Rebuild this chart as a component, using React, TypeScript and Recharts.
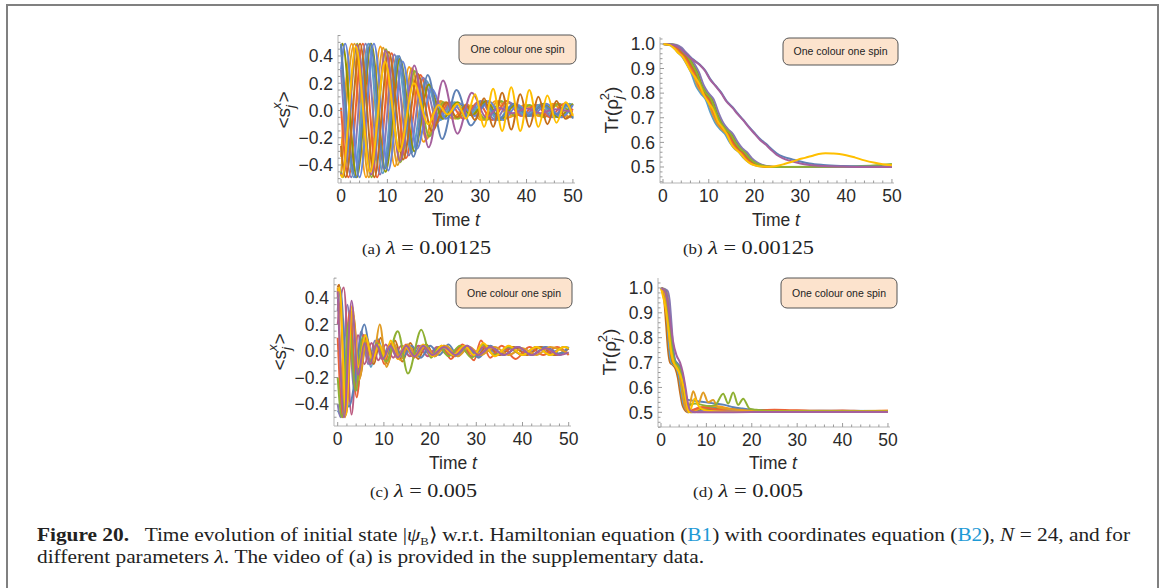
import React from "react"
import { LineChart, Line, XAxis, YAxis } from "recharts"

type Pt = [number, number]
type Series = { color: string; pts: Pt[] }

// Mathematica default palette
const blue = "#5E81B5"
const orange = "#E19C24"
const green = "#8FB032"
const red = "#EB6235"
const violet = "#8778B3"
const brown = "#C56E1A"
const sky = "#5D9EC7"
const yellow = "#FFBF00"
const purple = "#A5609D"
const olive = "#929600"
const indigo = "#6685D9"
const amber = "#F89F13"
const rose = "#BC5B80"

// ---------- shared ticks ----------
const timeTicks = [0, 2, 4, 6, 8, 10, 12, 14, 16, 18, 20, 22, 24, 26, 28, 30, 32, 34, 36, 38, 40, 42, 44, 46, 48, 50]
const timeMajor = [0, 10, 20, 30, 40, 50]
const sxTicks = [-0.5, -0.45, -0.4, -0.35, -0.3, -0.25, -0.2, -0.15, -0.1, -0.05, 0, 0.05, 0.1, 0.15, 0.2, 0.25, 0.3, 0.35, 0.4, 0.45, 0.5, 0.55]
const sxMajor = [-0.4, -0.2, 0, 0.2, 0.4]
const trTicks = [0.44, 0.46, 0.48, 0.5, 0.52, 0.54, 0.56, 0.58, 0.6, 0.62, 0.64, 0.66, 0.68, 0.7, 0.72, 0.74, 0.76, 0.78, 0.8, 0.82, 0.84, 0.86, 0.88, 0.9, 0.92, 0.94, 0.96, 0.98, 1.0, 1.02]
const trMajor = [0.5, 0.6, 0.7, 0.8, 0.9, 1.0]

// ---------- panel (a): <s_j^x>, lambda = 0.00125 ----------
const aSpin1: Pt[] = [[0, -0.48], [2.9, 0.49], [6.0, -0.49], [9.1, 0.46], [12.2, -0.4], [15.3, 0.31], [18.4, -0.21], [21.5, 0.07], [24.6, -0.06], [27.7, 0.035], [30.8, -0.07], [33.9, 0.07], [37.0, -0.04], [40.1, 0.04], [43.2, -0.045], [46.3, 0.05], [49.4, -0.05], [50, -0.045]]
const aSpin2: Pt[] = [[0, -0.45], [0.4, -0.49], [3.5, 0.49], [6.6, -0.49], [9.7, 0.45], [12.8, -0.38], [15.9, 0.29], [19.0, -0.19], [22.1, 0.06], [25.2, -0.06], [28.3, 0.035], [31.4, -0.07], [34.5, 0.07], [37.6, -0.04], [40.7, 0.04], [43.8, -0.05], [46.9, 0.05], [50, -0.05]]
const aSpin3: Pt[] = [[0, 0.02], [1.6, -0.49], [4.7, 0.49], [7.8, -0.49], [10.9, 0.42], [14.0, -0.35], [17.1, 0.26], [20.2, -0.11], [23.3, 0.06], [26.4, -0.06], [29.5, 0.06], [32.6, -0.07], [35.7, 0.07], [38.8, -0.04], [41.9, 0.04], [45.0, -0.05], [48.1, 0.05], [50, 0.0]]
const aSpin4: Pt[] = [[0, 0.3], [2.2, -0.49], [5.3, 0.49], [8.4, -0.47], [11.5, 0.41], [14.6, -0.33], [17.7, 0.24], [20.8, -0.08], [23.9, 0.06], [27.0, -0.045], [30.1, 0.07], [33.2, -0.07], [36.3, 0.06], [39.4, -0.04], [42.5, 0.04], [45.6, -0.05], [48.7, 0.05], [50, 0.03]]
const aSpin5: Pt[] = [[0, 0.47], [2.8, -0.49], [5.9, 0.49], [9.0, -0.46], [12.1, 0.4], [15.2, -0.31], [18.3, 0.22], [21.4, -0.07], [24.5, 0.06], [27.6, -0.035], [30.7, 0.07], [33.8, -0.07], [36.9, 0.04], [40.0, -0.04], [43.1, 0.045], [46.2, -0.05], [49.3, 0.05], [50, 0.04]]
const aSpin6: Pt[] = [[0, 0.46], [0.3, 0.49], [3.4, -0.49], [6.5, 0.49], [9.6, -0.45], [12.7, 0.38], [15.8, -0.3], [18.9, 0.19], [22.0, -0.06], [25.1, 0.06], [28.2, -0.035], [31.3, 0.07], [34.4, -0.07], [37.5, 0.04], [40.6, -0.04], [43.7, 0.05], [46.8, -0.05], [50, 0.05]]
const aSpin7: Pt[] = [[0, 0.3], [0.9, 0.49], [4.0, -0.49], [7.1, 0.49], [10.2, -0.44], [13.3, 0.36], [16.4, -0.28], [19.5, 0.16], [22.6, -0.06], [25.7, 0.05], [28.8, -0.04], [31.9, 0.07], [35.0, -0.07], [38.1, 0.04], [41.2, -0.04], [44.3, 0.05], [47.4, -0.05], [50, 0.04]]
const aSpin8: Pt[] = [[0, -0.34], [2.3, 0.49], [5.4, -0.49], [8.5, 0.47], [11.6, -0.41], [14.7, 0.32], [17.8, -0.23], [20.9, 0.07], [24.0, -0.06], [27.1, 0.045], [30.2, -0.07], [33.3, 0.07], [36.4, -0.05], [39.5, 0.04], [42.6, -0.04], [45.7, 0.05], [48.8, -0.05], [50, -0.03]]
const aBlue: Pt[] = [[0, 0.49], [3.2, -0.49], [6.3, 0.49], [9.4, -0.43], [12.5, 0.4], [15.6, -0.34], [18.7, 0.26], [21.8, -0.21], [24.9, 0.15], [28.0, -0.11], [31.1, 0.05], [34.2, -0.06], [37.3, 0.05], [40.4, -0.04], [43.5, 0.04], [46.6, -0.03], [48.5, 0.04], [50, -0.06]]
const aBrown: Pt[] = [[0, -0.26], [1.0, -0.49], [4.1, 0.49], [7.2, -0.49], [10.3, 0.43], [13.4, -0.36], [16.5, 0.27], [19.6, -0.15], [22.7, 0.06], [25.0, -0.05], [27.0, 0.04], [28.9, -0.07], [30.85, 0.09], [32.8, -0.12], [34.75, 0.13], [36.7, -0.14], [38.65, 0.12], [40.6, -0.12], [42.55, 0.1], [44.5, -0.1], [46.45, 0.07], [48.4, -0.06], [50, -0.02]]
const aPurple: Pt[] = [[0, -0.46], [0.3, -0.48], [3.4, 0.48], [6.5, -0.47], [9.6, 0.44], [12.7, -0.37], [15.8, 0.33], [18.9, -0.27], [22.0, 0.22], [25.1, -0.17], [28.2, 0.13], [31.3, -0.05], [34.0, 0.02], [37.0, -0.02], [40.0, 0.015], [43.0, -0.02], [46.0, 0.01], [50, -0.01]]
const aYellow: Pt[] = [[0, -0.47], [0.2, -0.49], [3.2, 0.47], [6.3, -0.45], [9.5, 0.36], [12.6, -0.3], [15.7, 0.2], [18.8, -0.1], [21.0, 0.04], [23.0, -0.03], [25.1, 0.05], [27.0, -0.06], [28.9, 0.12], [30.85, -0.12], [32.8, 0.16], [34.75, -0.15], [36.7, 0.17], [38.65, -0.15], [40.6, 0.15], [42.55, -0.12], [44.5, 0.11], [46.45, -0.09], [48.4, 0.06], [50, -0.04]]

// ---------- panel (b): Tr(rho_j^2), lambda = 0.00125 ----------
const bLevels = [1.0, 0.997, 0.985, 0.965, 0.945, 0.92, 0.885, 0.83, 0.8, 0.775, 0.72, 0.68, 0.655, 0.635, 0.6, 0.575, 0.56, 0.535, 0.52, 0.51, 0.503, 0.5, 0.5]
const bTimes1 = [0, 1.1, 2.3, 3.3, 4.3, 5.1, 6.1, 7.2, 8.2, 9.3, 10.4, 11.4, 12.4, 13.5, 14.6, 15.6, 16.6, 17.7, 18.7, 19.7, 21.1, 23.1, 50]
const bTimes2 = [0, 1.45, 2.65, 3.65, 4.65, 5.45, 6.45, 7.55, 8.55, 9.65, 10.75, 11.75, 12.75, 13.85, 14.95, 15.95, 16.95, 18.05, 19.05, 20.05, 21.45, 23.45, 50]
const bTimes3 = [0, 1.8, 3.0, 4.0, 5.0, 5.8, 6.8, 7.9, 8.9, 10.0, 11.1, 12.1, 13.1, 14.2, 15.3, 16.3, 17.3, 18.4, 19.4, 20.4, 21.8, 23.8, 50]
const bTimes4 = [0, 2.15, 3.35, 4.35, 5.35, 6.15, 7.15, 8.25, 9.25, 10.35, 11.45, 12.45, 13.45, 14.55, 15.65, 16.65, 17.65, 18.75, 19.75, 20.75, 22.15, 24.15, 50]
const bTimes5 = [0, 2.5, 3.7, 4.7, 5.7, 6.5, 7.5, 8.6, 9.6, 10.7, 11.8, 12.8, 13.8, 14.9, 16.0, 17.0, 18.0, 19.1, 20.1, 21.1, 22.5, 24.5, 50]
const bTimes6 = [0, 2.85, 4.05, 5.05, 6.05, 6.85, 7.85, 8.95, 9.95, 11.05, 12.15, 13.15, 14.15, 15.25, 16.35, 17.35, 18.35, 19.45, 20.45, 21.45, 22.85, 24.85, 50]
const bGreen: Pt[] = [[0, 1], [2.3, 0.997], [3.5, 0.985], [4.5, 0.965], [5.5, 0.945], [6.3, 0.92], [7.3, 0.885], [8.4, 0.83], [9.4, 0.8], [10.5, 0.775], [11.6, 0.72], [12.6, 0.68], [13.6, 0.655], [14.7, 0.635], [15.8, 0.6], [16.8, 0.575], [17.8, 0.56], [18.9, 0.535], [19.9, 0.52], [20.9, 0.51], [22.3, 0.503], [24.3, 0.5], [35, 0.501], [42, 0.503], [46, 0.506], [50, 0.512]]
const bPurple: Pt[] = [[0, 1.0], [2, 0.997], [3.5, 0.985], [5.2, 0.955], [6.5, 0.935], [8.1, 0.913], [9.2, 0.89], [10.3, 0.855], [11.5, 0.828], [12.7, 0.8], [13.9, 0.765], [15.2, 0.74], [16.3, 0.715], [17.5, 0.69], [18.8, 0.66], [20, 0.635], [21.2, 0.61], [22.5, 0.59], [23.7, 0.568], [24.8, 0.55], [26.2, 0.535], [28.4, 0.522], [30, 0.514], [32, 0.508], [35, 0.504], [39.3, 0.502], [45, 0.5], [50, 0.5]]
const bBlue: Pt[] = [[0, 1.0], [2, 0.997], [3.5, 0.986], [5.2, 0.957], [6.5, 0.938], [8.1, 0.915], [9.2, 0.893], [10.3, 0.858], [11.5, 0.83], [12.7, 0.803], [13.9, 0.768], [15.2, 0.743], [16.3, 0.718], [17.5, 0.692], [18.8, 0.663], [20, 0.638], [21.2, 0.614], [22.5, 0.594], [23.7, 0.573], [24.8, 0.556], [26.2, 0.542], [28.4, 0.53], [30, 0.522], [32, 0.514], [35, 0.508], [39.3, 0.504], [45, 0.502], [50, 0.501]]
const bYellow: Pt[] = [[0, 1.0], [1.5, 0.995], [2.5, 0.98], [3.4, 0.962], [4.2, 0.95], [5.0, 0.925], [6.0, 0.89], [7.0, 0.865], [7.9, 0.838], [9.0, 0.79], [10.0, 0.76], [10.9, 0.735], [12.0, 0.685], [13.0, 0.66], [13.9, 0.635], [15.0, 0.59], [16.0, 0.57], [16.9, 0.555], [18.0, 0.53], [19.0, 0.515], [20.2, 0.506], [21.5, 0.502], [23.5, 0.501], [25, 0.505], [26.5, 0.512], [28, 0.52], [29.5, 0.53], [31, 0.537], [32.5, 0.545], [34, 0.553], [35.5, 0.556], [37, 0.555], [38.5, 0.553], [40, 0.548], [42, 0.538], [44, 0.527], [46, 0.518], [48, 0.511], [50, 0.507]]

// ---------- panel (c): <s_j^x>, lambda = 0.005 ----------
const cBlue: Pt[] = [[0, 0.3], [0.5, 0.48], [2.4, -0.42], [5.8, 0.2], [7.3, -0.06], [8.7, 0.05], [10.2, -0.04], [12, 0.05], [14, -0.05], [16, 0.04], [18, -0.05], [20, 0.04], [22, -0.03], [24, 0.05], [26, -0.04], [28, 0.03], [30.5, -0.05], [33, 0.04], [36, -0.03], [39, 0.03], [42, -0.03], [45, 0.03], [48, -0.02], [50, 0.03]]
const cOrange: Pt[] = [[0, 0.48], [1.6, -0.5], [3.1, 0.3], [4.6, -0.22], [6.2, 0.08], [7.6, -0.08], [9.1, 0.2], [10.6, -0.12], [12.1, 0.06], [13.6, -0.07], [15.2, 0.05], [17, -0.04], [19, 0.04], [21, -0.04], [23.5, 0.04], [26, -0.04], [28.5, 0.03], [31, -0.03], [34, 0.03], [37, -0.03], [40, 0.02], [43, -0.03], [46, 0.03], [50, -0.02]]
const cGreen: Pt[] = [[0, -0.2], [0.9, -0.5], [2.4, 0.22], [3.9, -0.3], [5.4, 0.1], [7.0, -0.08], [8.5, 0.06], [10.5, -0.08], [13.0, 0.15], [15.2, -0.17], [18.1, 0.16], [20.2, -0.05], [22, 0.03], [24, -0.04], [26.5, 0.04], [29, -0.05], [31.5, 0.05], [34, -0.03], [37, 0.03], [40, -0.03], [43, 0.03], [46, -0.03], [49, 0.03], [50, 0.02]]
const cRed: Pt[] = [[0, 0.1], [1.1, -0.5], [2.6, 0.3], [4.1, -0.35], [5.6, 0.12], [7.1, -0.1], [8.6, 0.08], [10.1, -0.1], [11.6, 0.06], [13.1, -0.06], [14.8, 0.05], [16.5, -0.05], [18.5, 0.04], [20.5, -0.04], [22.5, 0.04], [24.5, -0.06], [27, 0.05], [29.5, -0.07], [31, 0.08], [33, -0.05], [35.5, 0.04], [38.5, -0.06], [41.5, 0.03], [44.5, -0.03], [47.5, 0.03], [50, -0.03]]
const cViolet: Pt[] = [[0, -0.4], [0.6, -0.5], [2.1, 0.35], [3.6, -0.3], [5.1, 0.15], [6.6, -0.1], [8.1, 0.08], [9.6, -0.06], [11.2, 0.05], [12.8, -0.05], [14.5, 0.04], [16.2, -0.04], [18, 0.04], [20, -0.03], [22, 0.03], [24.5, -0.03], [27, 0.03], [29.5, -0.03], [32, 0.03], [35, -0.03], [38, 0.03], [41, -0.02], [44, 0.03], [47, -0.03], [50, 0.02]]
const cBrown: Pt[] = [[0, 0.48], [0.3, 0.5], [1.8, -0.48], [3.3, 0.28], [4.8, -0.2], [6.3, 0.1], [7.8, -0.1], [9.3, 0.1], [10.8, -0.1], [12.4, 0.08], [14, -0.08], [15.7, 0.06], [17.4, -0.06], [19.2, 0.05], [21, -0.04], [23, 0.04], [25, -0.04], [27.5, 0.04], [30, -0.04], [32.5, 0.04], [35, -0.03], [38, 0.03], [41, -0.03], [44, 0.03], [47, -0.03], [50, 0.02]]
const cSky: Pt[] = [[0, -0.45], [1.2, -0.5], [2.7, 0.3], [4.2, -0.3], [5.7, 0.12], [7.2, -0.12], [8.7, 0.09], [10.2, -0.06], [11.8, 0.05], [13.5, -0.05], [15.2, 0.05], [17, -0.04], [19, 0.05], [21, -0.04], [23, 0.04], [25.5, -0.04], [28, 0.04], [30.5, -0.04], [33, 0.03], [36, -0.03], [39, 0.03], [42, -0.03], [45, 0.03], [48, -0.03], [50, 0.03]]
const cRose: Pt[] = [[0, 0.2], [1.3, 0.48], [3.0, -0.48], [4.4, 0.12], [5.8, -0.1], [7.3, 0.06], [8.8, -0.07], [10.4, 0.05], [12, -0.05], [13.8, 0.04], [15.6, -0.04], [17.5, 0.04], [19.5, -0.04], [21.5, 0.03], [24, -0.03], [26.5, 0.03], [29, -0.04], [31.5, 0.03], [34, -0.03], [37, 0.02], [40, -0.03], [43, 0.03], [46, -0.02], [49, 0.03], [50, 0.02]]
const cYellow: Pt[] = [[0, 0.4], [0.4, 0.48], [1.8, -0.48], [3.1, 0.34], [4.5, -0.12], [6.0, 0.12], [7.5, -0.07], [9.0, 0.05], [10.3, -0.05], [11.5, 0.08], [13, -0.06], [14.5, 0.04], [16.5, -0.04], [18.5, 0.05], [20.5, -0.04], [22.5, 0.04], [25, -0.03], [27.5, 0.04], [29.5, -0.03], [31.5, 0.06], [34, -0.04], [37, 0.04], [40, -0.03], [43, 0.03], [46, -0.03], [49, 0.03], [50, 0.02]]
const cPurple: Pt[] = [[0, 0.45], [1.4, -0.5], [3.0, 0.38], [4.4, -0.18], [5.8, 0.06], [7.0, -0.1], [8.4, 0.05], [9.8, -0.06], [11.4, 0.04], [13, -0.05], [14.8, 0.04], [16.6, -0.04], [18.5, 0.04], [20.5, -0.03], [23, 0.03], [25.5, -0.03], [28, 0.04], [30.5, -0.03], [33, 0.03], [36, -0.03], [39, 0.03], [42, -0.03], [45, 0.02], [48, -0.03], [50, -0.01]]

// ---------- panel (d): Tr(rho_j^2), lambda = 0.005 ----------
const dLevels = [1.0, 0.99, 0.95, 0.86, 0.76, 0.7, 0.69, 0.675, 0.64, 0.58, 0.53, 0.51, 0.5]
const dTimes1 = [0, 0.2, 0.7, 1.1, 1.5, 2.0, 2.6, 3.2, 3.7, 4.2, 4.7, 5.2, 5.8]
const dTimes2 = [0, 0.5, 1.0, 1.4, 1.8, 2.3, 2.9, 3.5, 4.0, 4.5, 5.0, 5.5, 6.1]
const dTimes3 = [0, 0.8, 1.3, 1.7, 2.1, 2.6, 3.2, 3.8, 4.3, 4.8, 5.3, 5.8, 6.4]
const dTimes4 = [0, 1.1, 1.6, 2.0, 2.4, 2.9, 3.5, 4.1, 4.6, 5.1, 5.6, 6.1, 6.7]
const dTimes5 = [0, 1.4, 1.9, 2.3, 2.7, 3.2, 3.8, 4.4, 4.9, 5.4, 5.9, 6.4, 7.0]
const dTail1: Pt[] = [[8, 0.505], [12, 0.51], [18, 0.504], [30, 0.503], [50, 0.504]]
const dTail2: Pt[] = [[8, 0.515], [11, 0.52], [15, 0.51], [22, 0.505], [35, 0.506], [50, 0.505]]
const dTail3: Pt[] = [[9, 0.51], [13, 0.515], [17, 0.506], [26, 0.504], [50, 0.503]]
const dTail4: Pt[] = [[9, 0.52], [12, 0.525], [16, 0.512], [24, 0.506], [40, 0.505], [50, 0.506]]
const dTail5: Pt[] = [[9, 0.505], [14, 0.508], [20, 0.503], [35, 0.502], [50, 0.502]]
const dPurple: Pt[] = [[0, 1], [0.8, 0.99], [1.4, 0.95], [2.0, 0.87], [2.6, 0.79], [3.4, 0.73], [4.2, 0.7], [4.8, 0.66], [5.4, 0.6], [6.0, 0.53], [6.6, 0.505], [8, 0.5], [12, 0.5], [20, 0.501], [50, 0.501]]
const dOrange: Pt[] = [[0, 1.0], [0.5, 0.995], [1.0, 0.96], [1.5, 0.87], [2.0, 0.77], [2.6, 0.71], [3.3, 0.69], [3.9, 0.67], [4.4, 0.62], [5.0, 0.55], [5.6, 0.51], [6.2, 0.52], [7.1, 0.585], [8.2, 0.535], [9.3, 0.58], [10.4, 0.54], [11.5, 0.55], [12.5, 0.52], [14, 0.515], [17, 0.51], [22, 0.505], [30, 0.504], [40, 0.503], [50, 0.504]]
const dGreen: Pt[] = [[0, 1], [0.9, 0.99], [1.4, 0.94], [1.9, 0.85], [2.4, 0.76], [3.0, 0.705], [3.6, 0.69], [4.2, 0.67], [4.7, 0.62], [5.3, 0.56], [6.0, 0.53], [7.5, 0.535], [9, 0.53], [10.5, 0.525], [12, 0.53], [13.7, 0.575], [14.8, 0.535], [15.9, 0.58], [17, 0.53], [18.1, 0.555], [19.5, 0.515], [21, 0.51], [25, 0.505], [35, 0.504], [50, 0.503]]
const dBlue: Pt[] = [[0, 1], [1.0, 0.99], [1.5, 0.94], [2.0, 0.85], [2.5, 0.77], [3.1, 0.71], [3.7, 0.695], [4.3, 0.68], [4.8, 0.63], [5.4, 0.57], [6.0, 0.55], [8, 0.545], [10, 0.54], [12, 0.535], [14, 0.53], [16, 0.52], [18, 0.515], [20, 0.51], [25, 0.505], [35, 0.503], [50, 0.503]]
const dYellow: Pt[] = [[0, 1.0], [0.4, 0.97], [1.0, 0.92], [1.6, 0.84], [2.2, 0.75], [2.8, 0.7], [3.4, 0.68], [4.0, 0.66], [4.6, 0.63], [5.2, 0.58], [5.7, 0.53], [6.1, 0.5], [6.7, 0.52], [7.4, 0.555], [8.3, 0.525], [9.4, 0.51], [11, 0.505], [14, 0.502], [20, 0.502], [50, 0.502]]
const dRed: Pt[] = [[0, 1], [0.6, 0.99], [1.1, 0.95], [1.6, 0.86], [2.1, 0.76], [2.6, 0.705], [3.2, 0.69], [3.8, 0.675], [4.3, 0.64], [4.8, 0.575], [5.3, 0.525], [5.9, 0.505], [7, 0.51], [9, 0.52], [11, 0.515], [13, 0.51], [16, 0.512], [20, 0.508], [25, 0.51], [30, 0.508], [35, 0.506], [40, 0.507], [45, 0.505], [50, 0.506]]

const zip = (ts: number[], vs: number[]): Pt[] => ts.map((t, i) => [t, vs[i]])

const seriesA: Series[] = [
  { color: amber, pts: aSpin8 },
  { color: orange, pts: aSpin1 },
  { color: green, pts: aSpin2 },
  { color: red, pts: aSpin3 },
  { color: violet, pts: aSpin4 },
  { color: sky, pts: aSpin5 },
  { color: olive, pts: aSpin6 },
  { color: indigo, pts: aSpin7 },
  { color: blue, pts: aBlue },
  { color: brown, pts: aBrown },
  { color: purple, pts: aPurple },
  { color: yellow, pts: aYellow },
]

const seriesB: Series[] = [
  { color: sky, pts: zip(bTimes1, bLevels) },
  { color: orange, pts: zip(bTimes2, bLevels) },
  { color: red, pts: zip(bTimes3, bLevels) },
  { color: brown, pts: zip(bTimes4, bLevels) },
  { color: olive, pts: zip(bTimes5, bLevels) },
  { color: violet, pts: zip(bTimes6, bLevels) },
  { color: green, pts: bGreen },
  { color: blue, pts: bBlue },
  { color: purple, pts: bPurple },
  { color: yellow, pts: bYellow },
]

const seriesC: Series[] = [
  { color: sky, pts: cSky },
  { color: violet, pts: cViolet },
  { color: brown, pts: cBrown },
  { color: rose, pts: cRose },
  { color: red, pts: cRed },
  { color: blue, pts: cBlue },
  { color: orange, pts: cOrange },
  { color: green, pts: cGreen },
  { color: yellow, pts: cYellow },
  { color: purple, pts: cPurple },
]

const seriesD: Series[] = [
  { color: brown, pts: [...zip(dTimes1, dLevels), ...dTail1] },
  { color: sky, pts: [...zip(dTimes2, dLevels), ...dTail2] },
  { color: olive, pts: [...zip(dTimes3, dLevels), ...dTail3] },
  { color: amber, pts: [...zip(dTimes4, dLevels), ...dTail4] },
  { color: violet, pts: [...zip(dTimes5, dLevels), ...dTail5] },
  { color: red, pts: dRed },
  { color: blue, pts: dBlue },
  { color: orange, pts: dOrange },
  { color: green, pts: dGreen },
  { color: yellow, pts: dYellow },
  { color: purple, pts: dPurple },
]

const SANS = "'Liberation Sans', Arial, Helvetica, sans-serif"
const SERIF = "'Liberation Serif', 'Times New Roman', serif"
const TICK_FONT = 17.5
const isIn = (v: number, list: number[]) => list.some((m) => Math.abs(m - v) < 1e-6)
const fmtY = (v: number) => (v.toFixed(1)).replace("-", "\u2212")

type PanelProps = {
  left: number
  top: number
  w: number
  h: number
  xDomain: [number, number]
  yDomain: [number, number]
  yTicks: number[]
  yMajor: number[]
  series: Series[]
}

function Panel({ left, top, w, h, xDomain, yDomain, yTicks, yMajor, series }: PanelProps) {
  const ml = 52
  const mt = 3
  const mb = 28
  const mr = 18
  return (
    <div style={{ position: "absolute", left: left - ml, top: top - mt }}>
      <LineChart width={w + ml + mr} height={h + mt + mb} margin={{ top: mt, right: mr, bottom: 0, left: 0 }}>
        <XAxis
          dataKey="t"
          type="number"
          domain={xDomain}
          ticks={timeTicks}
          interval={0}
          height={mb}
          tickSize={0}
          tickMargin={0}
          tickLine={false}
          allowDataOverflow
          axisLine={{ stroke: "#b5b5b5", strokeWidth: 1 }}
          tick={(p: any) => {
            const major = isIn(p.payload.value, timeMajor)
            return (
              <g>
                <line x1={p.x} x2={p.x} y1={p.y} y2={p.y - (major ? 4 : 2.5)} stroke="#9a9a9a" strokeWidth={1} />
                {major && (
                  <text x={p.x} y={p.y + 19} textAnchor="middle" fontFamily={SANS} fontSize={TICK_FONT} fill="#2a2a2a">
                    {String(p.payload.value)}
                  </text>
                )}
              </g>
            )
          }}
        />
        <YAxis
          type="number"
          domain={yDomain}
          ticks={yTicks}
          interval={0}
          width={ml}
          tickSize={0}
          tickMargin={0}
          tickLine={false}
          allowDataOverflow
          axisLine={{ stroke: "#b5b5b5", strokeWidth: 1 }}
          tick={(p: any) => {
            const major = isIn(p.payload.value, yMajor)
            return (
              <g>
                <line x1={p.x} x2={p.x + (major ? 4 : 2.5)} y1={p.y} y2={p.y} stroke="#9a9a9a" strokeWidth={1} />
                {major && (
                  <text x={p.x - 5} y={p.y} dy="0.36em" textAnchor="end" fontFamily={SANS} fontSize={TICK_FONT} fill="#2a2a2a">
                    {fmtY(p.payload.value)}
                  </text>
                )}
              </g>
            )
          }}
        />
        {series.map((s, i) => (
          <Line
            key={i}
            data={s.pts.map(([t, v]) => ({ t, v }))}
            dataKey="v"
            type="monotoneX"
            stroke={s.color}
            strokeWidth={2}
            dot={false}
            activeDot={false}
            isAnimationActive={false}
          />
        ))}
      </LineChart>
    </div>
  )
}

function SxLabel({ x, y }: { x: number; y: number }) {
  return (
    <text transform={`translate(${x},${y}) rotate(-90)`} textAnchor="middle" fontFamily={SANS} fontSize={19} fill="#2a2a2a">
      {"<s"}
      <tspan fontSize={13} dy={5} fontStyle="italic">j</tspan>
      <tspan fontSize={13} dx={-4} dy={-14} fontStyle="italic">x</tspan>
      <tspan dy={9}>{">"}</tspan>
    </text>
  )
}

function TrLabel({ x, y }: { x: number; y: number }) {
  return (
    <text transform={`translate(${x},${y}) rotate(-90)`} textAnchor="middle" fontFamily={SANS} fontSize={19} fill="#2a2a2a">
      {"Tr(\u03C1"}
      <tspan fontSize={13} dy={5} fontStyle="italic">j</tspan>
      <tspan fontSize={13} dx={-4} dy={-14}>2</tspan>
      <tspan dy={9}>{")"}</tspan>
    </text>
  )
}

function TimeLabel({ x, y }: { x: number; y: number }) {
  return (
    <text x={x} y={y} textAnchor="middle" fontFamily={SANS} fontSize={17.5} fill="#2a2a2a" style={{ whiteSpace: "pre" }}>
      {"Time "}
      <tspan fontStyle="italic">t</tspan>
    </text>
  )
}

function LegendBox({ x, y, w, h }: { x: number; y: number; w: number; h: number }) {
  return (
    <g>
      <rect x={x} y={y} width={w} height={h} rx={6} ry={6} fill="#FCE3CD" stroke="#555" strokeWidth={1} />
      <text x={x + w / 2} y={y + h / 2} dy="0.35em" textAnchor="middle" fontFamily={SANS} fontSize={10.5} fill="#222">
        One colour one spin
      </text>
    </g>
  )
}

function SubCaption({ x, y, tag, lam, len }: { x: number; y: number; tag: string; lam: string; len: number }) {
  return (
    <text x={x} y={y} fontFamily={SERIF} fontSize={18.5} fill="#222" textLength={len} lengthAdjust="spacingAndGlyphs" style={{ whiteSpace: "pre" }}>
      <tspan fontSize={14}>{tag}</tspan>
      {" "}
      <tspan fontStyle="italic">{"\u03BB"}</tspan>
      {" = " + lam}
    </text>
  )
}

export default function App() {
  const link = "#1E9AD6"
  return (
    <div style={{ position: "absolute", left: 0, top: 0, width: 1165, height: 588, background: "#fff", overflow: "hidden" }}>
      <Panel left={338} top={35} w={237} h={148} xDomain={[-0.65, 50.45]} yDomain={[-0.532, 0.554]} yTicks={sxTicks} yMajor={sxMajor} series={seriesA} />
      <Panel left={660} top={37} w={234} h={146} xDomain={[-0.65, 50.45]} yDomain={[0.435, 1.028]} yTicks={trTicks} yMajor={trMajor} series={seriesB} />
      <Panel left={334} top={278} w={237} h={148} xDomain={[-0.8, 50.5]} yDomain={[-0.566, 0.551]} yTicks={sxTicks} yMajor={sxMajor} series={seriesC} />
      <Panel left={658} top={278} w={232} h={149} xDomain={[-0.66, 50.45]} yDomain={[0.441, 1.04]} yTicks={trTicks} yMajor={trMajor} series={seriesD} />

      <svg width={1165} height={588} style={{ position: "absolute", left: 0, top: 0, pointerEvents: "none" }}>
        <path d="M7,588 V5 H1158 V588" fill="none" stroke="#808080" strokeWidth={2} />

        <SxLabel x={290} y={110} />
        <TrLabel x={618} y={110} />
        <SxLabel x={286} y={352} />
        <TrLabel x={616} y={352} />

        <TimeLabel x={456} y={226} />
        <TimeLabel x={776} y={226} />
        <TimeLabel x={453} y={469} />
        <TimeLabel x={773} y={469} />

        <LegendBox x={459} y={35} w={117} h={29} />
        <LegendBox x={783} y={38} w={115} h={27} />
        <LegendBox x={456} y={278} w={116} h={30} />
        <LegendBox x={781} y={278} w={116} h={30} />

        <SubCaption x={362} y={254} tag="(a)" lam="0.00125" len={129} />
        <SubCaption x={683} y={254} tag="(b)" lam="0.00125" len={131} />
        <SubCaption x={370} y={497} tag="(c)" lam="0.005" len={107} />
        <SubCaption x={693} y={497} tag="(d)" lam="0.005" len={110} />

        <text x={37} y={541} fontFamily={SERIF} fontSize={18.5} fill="#222" textLength={1093} lengthAdjust="spacingAndGlyphs" style={{ whiteSpace: "pre" }}>
          <tspan fontWeight="bold">Figure 20.</tspan>
          {"   Time evolution of initial state |"}
          <tspan fontStyle="italic">{"\u03C8"}</tspan>
          <tspan fontSize={11} dy={4}>B</tspan>
          <tspan dy={-4}>{"\u27E9 w.r.t. Hamiltonian equation ("}</tspan>
          <tspan fill={link}>B1</tspan>
          {") with coordinates equation ("}
          <tspan fill={link}>B2</tspan>
          {"), "}
          <tspan fontStyle="italic">N</tspan>
          {" = 24, and for"}
        </text>
        <text x={37} y={563} fontFamily={SERIF} fontSize={18.5} fill="#222" textLength={667} lengthAdjust="spacingAndGlyphs" style={{ whiteSpace: "pre" }}>
          {"different parameters "}
          <tspan fontStyle="italic">{"\u03BB"}</tspan>
          {". The video of (a) is provided in the supplementary data."}
        </text>
      </svg>
    </div>
  )
}
